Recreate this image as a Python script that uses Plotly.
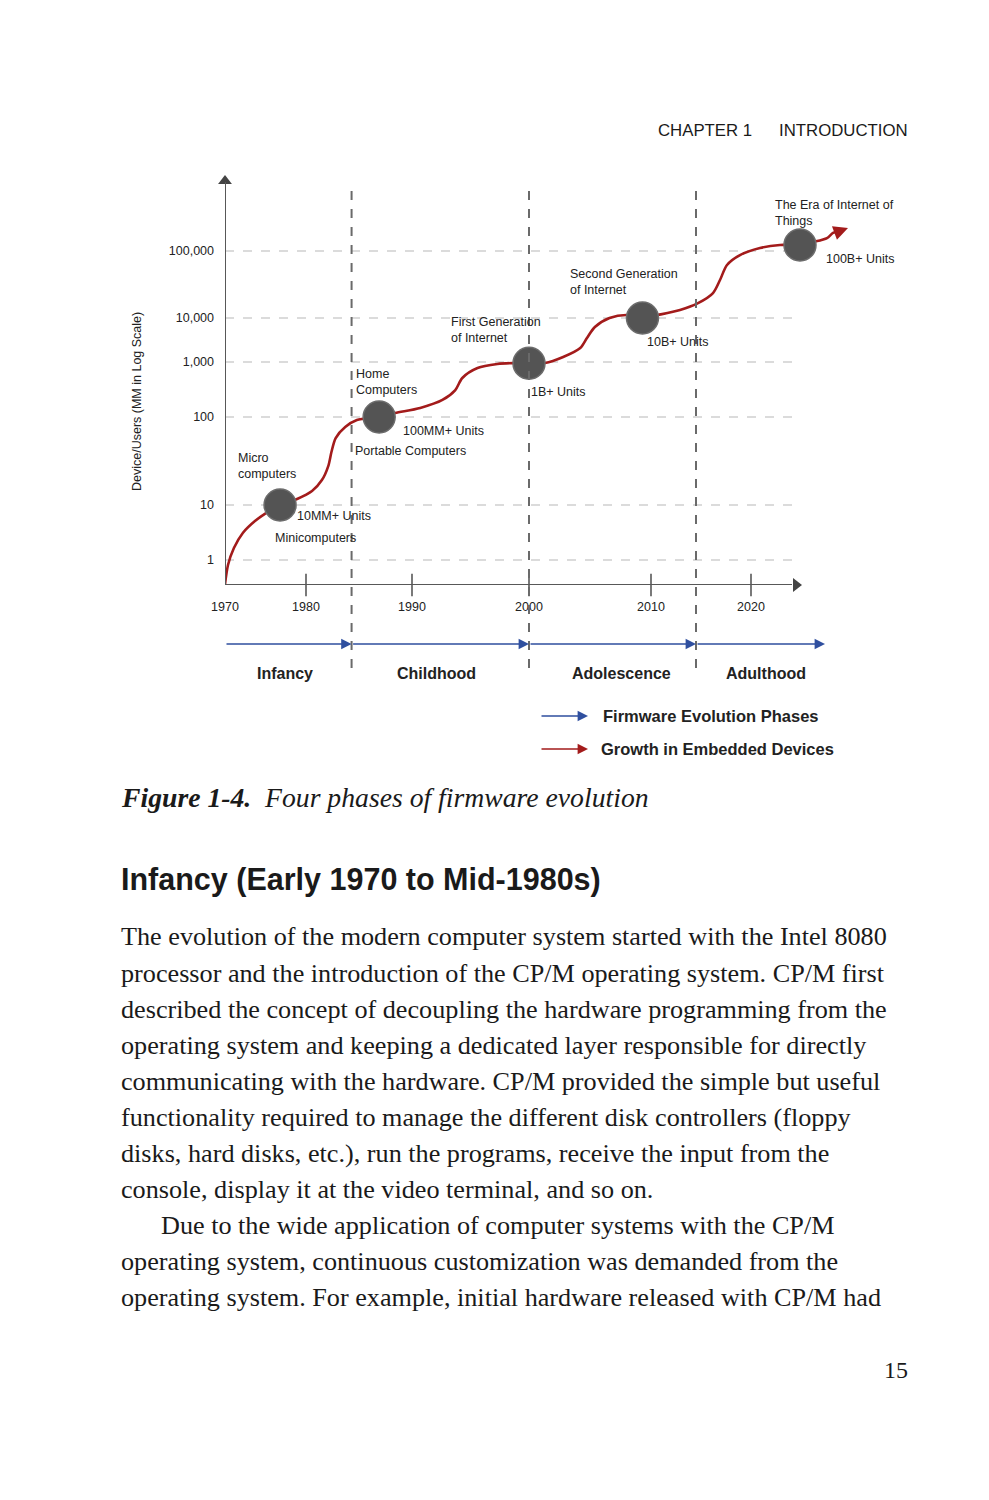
import numpy as np
import plotly.graph_objects as go

W, H = 989, 1500

# ---------------- data ----------------
YEAR_TICKS = [1970, 1980, 1990, 2000, 2010, 2020]
UNIT_TICKS = [1, 10, 100, 1000, 10000, 100000]
UNIT_TICK_TEXT = ["1", "10", "100", "1,000", "10,000", "100,000"]

CURVE_YEARS = [1970.0, 1970.37, 1971.1, 1972.2, 1973.7, 1975.3, 1976.8,
               1978.9, 1980.57, 1981.5, 1982.1, 1982.4, 1982.8, 1983.7, 1984.8, 1986.9,
               1988.4, 1990.7, 1992.6, 1993.7, 1994.3, 1995.6, 1997.3, 1998.6, 2000.0,
               2001.3, 2002.8, 2004.2, 2004.75, 2005.4, 2006.6, 2008.0, 2009.3,
               2010.7, 2012.9, 2014.7, 2016.2, 2016.9, 2017.6, 2018.9, 2020.9, 2022.9, 2024.9,
               2026.2, 2027.6, 2028.2, 2028.9]
CURVE_UNITS = [0.36, 0.81, 1.65, 3.1, 5.1, 7.5, 10,
               11.7, 14.4, 19.2, 27.7, 40, 57.7, 77, 92.5, 100,
               118, 146, 204, 309, 512, 777, 920, 955, 950,
               959, 1300, 2080, 3510, 6240, 10000, 11100, 10000,
               11100, 13200, 16700, 23600, 36900, 61800, 87000, 111000, 123000, 123000,
               136000, 156000, 186000, 199000]
ARROW_TIP_YEAR = 2029.7
ARROW_TIP_UNITS = 220000

MILESTONE_YEARS = [1976.8, 1986.9, 2000.0, 2009.3, 2024.9]
MILESTONE_UNITS = [10, 100, 950, 10000, 123000]

PHASE_NAMES = ["Infancy", "Childhood", "Adolescence", "Adulthood"]
PHASE_STARTS = [1970.0, 1984.3, 2000.0, 2014.5]
PHASE_ENDS = [1984.3, 2000.0, 2014.5, 2027.4]
PHASE_LABEL_YEARS = [1977.4, 1992.1, 2007.6, 2021.5]

LABEL_TEXTS = ["The Era of Internet of<br>Things", "100B+ Units",
               "Second Generation<br>of Internet", "10B+ Units",
               "First Generation<br>of Internet", "1B+ Units",
               "Home<br>Computers", "100MM+ Units", "Portable Computers",
               "Micro<br>computers", "10MM+ Units", "Minicomputers"]
LABEL_YEARS = [2022.2, 2027.3, 2003.2, 2009.5, 1993.2, 2000.0,
               1984.5, 1989.0, 1984.4, 1971.4, 1978.7, 1975.9]
LABEL_UNITS = [365000, 76000, 33900, 2850, 5340, 285,
               442, 69, 41, 27.4, 6.3, 2.5]

BODY_LINES = [
    "The evolution of the modern computer system started with the Intel 8080",
    "processor and the introduction of the CP/M operating system. CP/M first",
    "described the concept of decoupling the hardware programming from the",
    "operating system and keeping a dedicated layer responsible for directly",
    "communicating with the hardware. CP/M provided the simple but useful",
    "functionality required to manage the different disk controllers (floppy",
    "disks, hard disks, etc.), run the programs, receive the input from the",
    "console, display it at the video terminal, and so on.",
    "Due to the wide application of computer systems with the CP/M",
    "operating system, continuous customization was demanded from the",
    "operating system. For example, initial hardware released with CP/M had",
]
INDENTED = [8]

# ---------------- scale (non-uniform axis as drawn in the figure) ----------------
X_TICK_OFFSETS = [0, 81, 187, 304, 426, 526]
Y_TICK_OFFSETS = [25, 80, 168, 223, 267, 334]


def xs(year):
    year = np.atleast_1d(np.asarray(year, dtype=float))
    xt, xo = np.array(YEAR_TICKS, float), np.array(X_TICK_OFFSETS, float)
    out = np.interp(year, xt, xo)
    hi = year > xt[-1]
    out[hi] = xo[-1] + (year[hi] - xt[-1]) * (xo[-1] - xo[-2]) / (xt[-1] - xt[-2])
    return out


def ys(units):
    lg = np.log10(np.atleast_1d(np.asarray(units, dtype=float)))
    lt, yo = np.log10(np.array(UNIT_TICKS, float)), np.array(Y_TICK_OFFSETS, float)
    out = np.interp(lg, lt, yo)
    lo, hi = lg < lt[0], lg > lt[-1]
    out[lo] = yo[0] + (lg[lo] - lt[0]) * (yo[1] - yo[0]) / (lt[1] - lt[0])
    out[hi] = yo[-1] + (lg[hi] - lt[-1]) * (yo[-1] - yo[-2]) / (lt[-1] - lt[-2])
    return out


OFF = 8  # page body margin of the html page


def P(px, py):
    return (px - OFF) / W, 1 - (py - OFF) / H


# plot frame (page pixels)
X0, X1 = 225, 870
Y0, Y1 = 585, 176
X_RANGE = [0, X1 - X0]
Y_RANGE = [0, Y0 - Y1]
X_AXIS_END = 567
GRID_END = 575

RED = "#a31b1b"
BLUE = "#2f4f9f"
GREY = "#585858"
TXT = "#222222"
PAGE = "#1a1a1a"
SANS = "Liberation Sans, Arial, sans-serif"
SERIF = "Liberation Serif, Times New Roman, serif"

fig = go.Figure()

shapes = []
for v in UNIT_TICKS:
    y = float(ys(v)[0])
    shapes.append(dict(type="line", xref="x", yref="y", x0=0, x1=GRID_END, y0=y, y1=y,
                       line=dict(color="#cfcfcf", width=1.5, dash="dash"), layer="below"))
shapes.append(dict(type="line", xref="x", yref="y", x0=0, x1=X_AXIS_END, y0=0, y1=0,
                   line=dict(color=GREY, width=2)))
shapes.append(dict(type="line", xref="x", yref="y", x0=0, x1=0, y0=0, y1=Y_RANGE[1] - 6,
                   line=dict(color=GREY, width=2)))
for b in PHASE_STARTS[1:]:
    xb = float(xs(b)[0])
    shapes.append(dict(type="line", xref="x", yref="paper", x0=xb, x1=xb,
                       y0=P(0, 668)[1], y1=P(0, 184)[1],
                       line=dict(color="#6a6a6a", width=2, dash="dash")))

fig.add_trace(go.Scatter(x=xs(CURVE_YEARS), y=ys(CURVE_UNITS), mode="lines",
                         line=dict(color=RED, width=2.6, shape="spline", smoothing=0.8),
                         hoverinfo="skip", cliponaxis=False))
fig.add_trace(go.Scatter(x=xs(MILESTONE_YEARS), y=ys(MILESTONE_UNITS), mode="markers",
                         marker=dict(size=32, color="#545454", line=dict(color="#6c6c6c", width=1.5)),
                         hoverinfo="skip", cliponaxis=False))
fig.add_trace(go.Scatter(x=xs(YEAR_TICKS[1:]), y=[0] * (len(YEAR_TICKS) - 1), mode="markers",
                         marker=dict(symbol="line-ns-open", size=16, color=GREY,
                                     line=dict(color=GREY, width=1.6)),
                         hoverinfo="skip", cliponaxis=False))
fig.add_trace(go.Scatter(x=[X_AXIS_END + 4, 0], y=[0, Y_RANGE[1] - 5], mode="markers",
                         marker=dict(symbol=["triangle-right", "triangle-up"], size=12, color="#444"),
                         hoverinfo="skip", cliponaxis=False))

ann = []
ann.append(dict(x=float(xs(ARROW_TIP_YEAR)[0]), y=float(ys(ARROW_TIP_UNITS)[0]),
                ax=float(xs(CURVE_YEARS[-1])[0]), ay=float(ys(CURVE_UNITS[-1])[0]),
                xref="x", yref="y", axref="x", ayref="y", text="", showarrow=True,
                arrowhead=2, arrowsize=1.2, arrowwidth=2.4, arrowcolor=RED))

for txt, yr, u in zip(LABEL_TEXTS, LABEL_YEARS, LABEL_UNITS):
    ann.append(dict(x=float(xs(yr)[0]), y=float(ys(u)[0]), xref="x", yref="y", text=txt,
                    showarrow=False, xanchor="left", yanchor="middle", align="left",
                    font=dict(family=SANS, size=12.5, color=TXT)))

tx_, ty_ = P(137, 402)
ann.append(dict(x=tx_, y=ty_, xref="paper", yref="paper",
                text="Device/Users (MM in Log Scale)", textangle=-90, showarrow=False,
                xanchor="center", yanchor="middle",
                font=dict(family=SANS, size=12.5, color=TXT)))

py_arrow = P(0, 644)[1]
py_name = P(0, 674)[1]
for name, s, e, ly in zip(PHASE_NAMES, PHASE_STARTS, PHASE_ENDS, PHASE_LABEL_YEARS):
    xsx, xex = float(xs(s)[0]), float(xs(e)[0])
    ann.append(dict(x=xex, y=py_arrow, ax=xsx, ay=0, xref="x", yref="paper",
                    axref="x", ayref="pixel", text="", showarrow=True,
                    arrowhead=2, arrowsize=1.3, arrowwidth=1.6, arrowcolor=BLUE))
    ann.append(dict(x=float(xs(ly)[0]), y=py_name, xref="x", yref="paper",
                    text="<b>" + name + "</b>",
                    showarrow=False, font=dict(family=SANS, size=16, color=TXT),
                    xanchor="center", yanchor="middle"))

for ypx, col, txt, tx in [(716, BLUE, "Firmware Evolution Phases", 601),
                          (749, RED, "Growth in Embedded Devices", 599)]:
    ax_, ay_ = P(588, ypx)
    ann.append(dict(x=ax_, y=ay_, ax=-48, ay=0, xref="paper", yref="paper",
                    axref="pixel", ayref="pixel", text="", showarrow=True,
                    arrowhead=2, arrowsize=1.3, arrowwidth=1.6, arrowcolor=col))
    tx_, ty_ = P(tx, ypx)
    ann.append(dict(x=tx_, y=ty_, xref="paper", yref="paper", text="<b>" + txt + "</b>",
                    showarrow=False, xanchor="left", yanchor="middle",
                    font=dict(family=SANS, size=16.5, color=TXT)))

# page header
hx, hy = P(656, 130)
ann.append(dict(x=hx, y=hy, xref="paper", yref="paper", text="CHAPTER 1",
                showarrow=False, xanchor="left", yanchor="middle",
                font=dict(family=SANS, size=16.8, color=PAGE)))
hx, hy = P(910, 130)
ann.append(dict(x=hx, y=hy, xref="paper", yref="paper", text="INTRODUCTION",
                showarrow=False, xanchor="right", yanchor="middle",
                font=dict(family=SANS, size=16.8, color=PAGE)))

cx, cy = P(119, 798)
ann.append(dict(x=cx, y=cy, xref="paper", yref="paper",
                text="<b><i>Figure 1-4.</i></b>  <i>Four phases of firmware evolution</i>",
                showarrow=False, xanchor="left", yanchor="middle",
                font=dict(family=SERIF, size=27.7, color=PAGE)))
cx, cy = P(119, 879)
ann.append(dict(x=cx, y=cy, xref="paper", yref="paper",
                text="<b>Infancy (Early 1970 to Mid-1980s)</b>",
                showarrow=False, xanchor="left", yanchor="middle",
                font=dict(family=SANS, size=30.5, color=PAGE)))
for i, line in enumerate(BODY_LINES):
    xl = 159 if i in INDENTED else 119
    bx, by = P(xl, 937 + 36 * i)
    ann.append(dict(x=bx, y=by, xref="paper", yref="paper",
                    text=line, showarrow=False, xanchor="left", yanchor="middle",
                    font=dict(family=SERIF, size=26.2, color=PAGE)))
nx, ny = P(910, 1370)
ann.append(dict(x=nx, y=ny, xref="paper", yref="paper", text="15",
                showarrow=False, xanchor="right", yanchor="middle",
                font=dict(family=SERIF, size=24, color=PAGE)))

fig.update_layout(
    width=W, height=H, margin=dict(l=0, r=0, t=0, b=0, autoexpand=False),
    paper_bgcolor="white", plot_bgcolor="white", showlegend=False,
    shapes=shapes, annotations=ann,
    xaxis=dict(domain=[(X0 - OFF) / W, (X1 - OFF) / W], range=X_RANGE, showgrid=False,
               zeroline=False, showline=False, automargin=False,
               tickmode="array", tickvals=list(xs(YEAR_TICKS)),
               ticktext=[str(y) for y in YEAR_TICKS], ticks="", ticklabelstandoff=12,
               tickfont=dict(family=SANS, size=12.5, color=TXT), fixedrange=True),
    yaxis=dict(domain=[1 - (Y0 - OFF) / H, 1 - (Y1 - OFF) / H], range=Y_RANGE, showgrid=False,
               zeroline=False, showline=False, automargin=False,
               tickmode="array", tickvals=list(ys(UNIT_TICKS)),
               ticktext=UNIT_TICK_TEXT, ticks="", ticklabelstandoff=10,
               tickfont=dict(family=SANS, size=12.5, color=TXT), fixedrange=True),
)

fig.write_html("out.html")
